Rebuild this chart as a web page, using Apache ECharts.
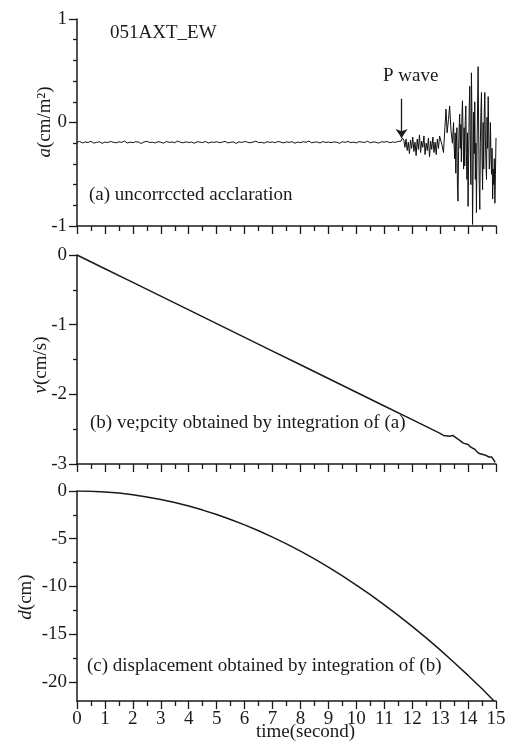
<!DOCTYPE html>
<html>
<head>
<meta charset="utf-8">
<script src="https://cdn.jsdelivr.net/npm/echarts@6/dist/echarts.min.js"></script>
<style>
  html, body { margin: 0; background: #fff; }
  #main { width: 511px; height: 748px; }
</style>
</head>
<body>
<div id="main"></div>
<script>
// tick labels
const timeTicks = [0, 1, 2, 3, 4, 5, 6, 7, 8, 9, 10, 11, 12, 13, 14, 15];
const timeMinorTicks = [0.5, 1.5, 2.5, 3.5, 4.5, 5.5, 6.5, 7.5, 8.5, 9.5, 10.5, 11.5, 12.5, 13.5, 14.5];
const accTicks = [-1, 0, 1];
const accMinorTicks = [-0.8, -0.6, -0.4, -0.2, 0.2, 0.4, 0.6, 0.8];
const velTicks = [-3, -2, -1, 0];
const velMinorTicks = [-2.5, -1.5, -0.5];
const dispTicks = [-20, -15, -10, -5, 0];
const dispMinorTicks = [-17.5, -12.5, -7.5, -2.5];

// (a) acceleration before the P wave, one reading every 0.1 s from 0 s
const accStep = 0.1;
const accQuiet = [
  -0.190, -0.184, -0.197, -0.188, -0.193, -0.181, -0.199, -0.192, -0.186, -0.201,
  -0.189, -0.194, -0.183, -0.191, -0.196, -0.187, -0.192, -0.180, -0.198, -0.190,
  -0.195, -0.186, -0.189, -0.203, -0.188, -0.182, -0.193, -0.191, -0.197, -0.185,
  -0.190, -0.199, -0.184, -0.192, -0.188, -0.195, -0.179, -0.191, -0.196, -0.187,
  -0.193, -0.189, -0.200, -0.185, -0.190, -0.194, -0.183, -0.198, -0.189, -0.192,
  -0.186, -0.195, -0.190, -0.182, -0.197, -0.191, -0.188, -0.202, -0.187, -0.193,
  -0.184, -0.190, -0.196, -0.189, -0.181, -0.194, -0.191, -0.199, -0.186, -0.192,
  -0.188, -0.195, -0.183, -0.190, -0.197, -0.187, -0.192, -0.185, -0.200, -0.189,
  -0.194, -0.186, -0.191, -0.180, -0.196, -0.190, -0.188, -0.198, -0.184, -0.193,
  -0.189, -0.195, -0.187, -0.191, -0.201, -0.186, -0.192, -0.183, -0.194, -0.190,
  -0.197, -0.185, -0.189, -0.193, -0.181, -0.196, -0.188, -0.191, -0.199, -0.186,
  -0.190, -0.184, -0.195, -0.188, -0.192, -0.183, -0.180
];
// (a) acceleration after the P wave: [time, value]
const accStrong = [
  [11.65, -0.15], [11.70, -0.17], [11.74, -0.24], [11.78, -0.16], [11.82, -0.27],
  [11.86, -0.19], [11.90, -0.30], [11.94, -0.17], [11.98, -0.25], [12.02, -0.14],
  [12.06, -0.28], [12.10, -0.19], [12.14, -0.32], [12.18, -0.16], [12.22, -0.26],
  [12.26, -0.12], [12.30, -0.29], [12.34, -0.18], [12.38, -0.24], [12.42, -0.13],
  [12.46, -0.31], [12.50, -0.20], [12.54, -0.27], [12.58, -0.15], [12.62, -0.33],
  [12.66, -0.18], [12.70, -0.26], [12.74, -0.14], [12.78, -0.29], [12.82, -0.19],
  [12.86, -0.31], [12.90, -0.16], [12.94, -0.25], [12.98, -0.13], [13.02, -0.13],
  [13.07, -0.22], [13.12, -0.29], [13.17, -0.05], [13.21, 0.13], [13.25, -0.10],
  [13.30, 0.03], [13.34, 0.16], [13.39, -0.08], [13.44, -0.20], [13.48, 0.00],
  [13.50, -0.22], [13.52, -0.35], [13.54, -0.10], [13.56, -0.49], [13.58, -0.20],
  [13.60, -0.05], [13.62, -0.62], [13.64, -0.76], [13.66, -0.28], [13.68, -0.05],
  [13.70, 0.08], [13.72, -0.25], [13.74, -0.02], [13.76, -0.38], [13.78, 0.05],
  [13.80, 0.21], [13.82, -0.10], [13.84, -0.45], [13.86, -0.05], [13.88, -0.42],
  [13.90, 0.02], [13.92, 0.16], [13.94, -0.30], [13.96, -0.55], [13.98, -0.10],
  [14.00, -0.81], [14.02, -0.35], [14.04, 0.12], [14.06, 0.35], [14.08, -0.20],
  [14.10, -0.60], [14.12, 0.48], [14.14, 0.05], [14.16, -0.985], [14.18, -0.50],
  [14.20, 0.10], [14.22, -0.30], [14.24, 0.20], [14.26, -0.55], [14.28, -0.20],
  [14.30, -0.87], [14.32, -0.25], [14.34, 0.15], [14.36, 0.54], [14.38, -0.10],
  [14.40, -0.60], [14.42, -0.84], [14.44, -0.20], [14.46, 0.10], [14.48, 0.29],
  [14.50, -0.35], [14.52, -0.65], [14.54, 0.00], [14.56, -0.45], [14.58, 0.10],
  [14.60, 0.29], [14.62, -0.15], [14.64, -0.40], [14.66, -0.55], [14.68, 0.05],
  [14.70, -0.25], [14.72, 0.25], [14.74, -0.10], [14.76, -0.45], [14.78, -0.36],
  [14.80, 0.00], [14.82, -0.30], [14.84, -0.50], [14.86, -0.25], [14.88, -0.74],
  [14.90, -0.45], [14.92, -0.60], [14.94, -0.35], [14.96, -0.78], [14.98, -0.50],
  [15.00, -0.15]
];

// (b) velocity
const velTime = [0, 1, 2, 3, 4, 5, 6, 7, 8, 9, 10, 11, 12, 13,
  13.12, 13.36, 13.45, 13.59, 13.70, 13.83, 13.90, 14.00, 14.07, 14.15, 14.25,
  14.31, 14.40, 14.50, 14.55, 14.60, 14.62, 14.67, 14.75, 14.80, 14.85, 14.92, 14.97];
const velValue = [0, -0.197, -0.394, -0.591, -0.788, -0.985, -1.182, -1.379, -1.576, -1.773,
  -1.970, -2.167, -2.364, -2.561,
  -2.59, -2.60, -2.59, -2.63, -2.66, -2.70, -2.71, -2.72, -2.75, -2.77, -2.79,
  -2.82, -2.85, -2.86, -2.88, -2.87, -2.86, -2.89, -2.90, -2.89, -2.90, -2.92, -2.975];

// (c) displacement
const dispTime = [0, 0.5, 1, 1.5, 2, 2.5, 3, 3.5, 4, 4.5, 5, 5.5, 6, 6.5, 7, 7.5,
  8, 8.5, 9, 9.5, 10, 10.5, 11, 11.5, 12, 12.5, 13, 13.5, 14, 14.5, 14.93];
const dispValue = [0, -0.02, -0.10, -0.22, -0.39, -0.62, -0.89, -1.21, -1.58, -2.00,
  -2.46, -2.98, -3.55, -4.16, -4.83, -5.54, -6.30, -7.12, -7.98, -8.89,
  -9.85, -10.86, -11.92, -13.03, -14.18, -15.39, -16.65, -17.96, -19.32, -20.72, -22.0];

const FONT = '"Liberation Serif", "Times New Roman", serif';
const INK = '#1a1a1a';

const chart = echarts.init(document.getElementById('main'));

function xAxesFor(gridIndex, showLabels) {
  return [{
    type: 'value', gridIndex: gridIndex, min: 0, max: 15, position: 'bottom',
    axisLine: { onZero: false, lineStyle: { color: INK, width: 1.5 } },
    axisTick: { customValues: timeTicks, length: 8, lineStyle: { color: INK, width: 1.3 } },
    axisLabel: { show: showLabels, customValues: timeTicks, margin: 9,
      fontFamily: FONT, fontSize: 19, color: INK },
    splitLine: { show: false }
  }, {
    type: 'value', gridIndex: gridIndex, min: 0, max: 15, position: 'bottom',
    axisLine: { show: false, onZero: false },
    axisTick: { customValues: timeMinorTicks, length: 5, lineStyle: { color: INK, width: 1.3 } },
    axisLabel: { show: false },
    splitLine: { show: false }
  }];
}

function yAxesFor(gridIndex, min, max, major, minor) {
  return [{
    type: 'value', gridIndex: gridIndex, min: min, max: max, position: 'left',
    axisLine: { onZero: false, lineStyle: { color: INK, width: 1.5 } },
    axisTick: { customValues: major, length: 8, lineStyle: { color: INK, width: 1.3 } },
    axisLabel: { customValues: major, margin: 10, fontFamily: FONT, fontSize: 19, color: INK },
    splitLine: { show: false }
  }, {
    type: 'value', gridIndex: gridIndex, min: min, max: max, position: 'left',
    axisLine: { show: false, onZero: false },
    axisTick: { customValues: minor, length: 4, lineStyle: { color: INK, width: 1.3 } },
    axisLabel: { show: false },
    splitLine: { show: false }
  }];
}

function label(text, left, top) {
  return { type: 'text', left: left, top: top,
    style: { text: text, fontFamily: FONT, fontSize: 19, fill: INK } };
}

function axisName(text, x, y) {
  return { type: 'text', x: x, y: y, rotation: Math.PI / 2,
    style: { text: text, fontFamily: FONT, fontSize: 19, fill: INK,
      align: 'center', verticalAlign: 'middle',
      rich: { i: { fontFamily: FONT, fontSize: 19, fontStyle: 'italic', fill: INK } } } };
}

const accData = accQuiet.map((v, i) => [i * accStep, v]).concat(accStrong);

chart.setOption({
  animation: false,
  backgroundColor: '#fff',
  grid: [
    { left: 77, top: 19, width: 419, height: 207 },
    { left: 77, top: 255, width: 419, height: 209 },
    { left: 77, top: 491, width: 419, height: 210 }
  ],
  xAxis: [].concat(xAxesFor(0, false), xAxesFor(1, false), xAxesFor(2, true)),
  yAxis: [].concat(
    yAxesFor(0, -1, 1, accTicks, accMinorTicks),
    yAxesFor(1, -3, 0, velTicks, velMinorTicks),
    yAxesFor(2, -22, 0, dispTicks, dispMinorTicks)
  ),
  series: [
    {
      name: 'acceleration', type: 'line', xAxisIndex: 0, yAxisIndex: 0,
      data: accData, showSymbol: false, lineStyle: { color: '#111', width: 1 },
      markLine: {
        silent: true, symbol: ['none', 'arrow'], symbolSize: 9,
        lineStyle: { color: INK, width: 1.3, type: 'solid' },
        label: { show: false },
        data: [[{ coord: [11.62, 0.23] }, { coord: [11.62, -0.15] }]]
      }
    },
    {
      name: 'velocity', type: 'line', xAxisIndex: 2, yAxisIndex: 2,
      data: velTime.map((t, i) => [t, velValue[i]]), showSymbol: false,
      lineStyle: { color: INK, width: 1.5 }
    },
    {
      name: 'displacement', type: 'line', xAxisIndex: 4, yAxisIndex: 4,
      data: dispTime.map((t, i) => [t, dispValue[i]]), showSymbol: false,
      lineStyle: { color: INK, width: 1.5 }
    }
  ],
  graphic: [
    label('051AXT_EW', 110, 24),
    label('P wave', 383, 67),
    label('(a) uncorrccted acclaration', 89, 186),
    label('(b) ve;pcity obtained by integration of (a)', 90, 414),
    label('(c) displacement obtained by integration of (b)', 87, 657),
    label('time(second)', 256, 723),
    axisName('{i|a}(cm/m²)', 45, 122),
    axisName('{i|v}(cm/s)', 41, 365),
    axisName('{i|d}(cm)', 26, 597)
  ]
});
</script>
</body>
</html>
